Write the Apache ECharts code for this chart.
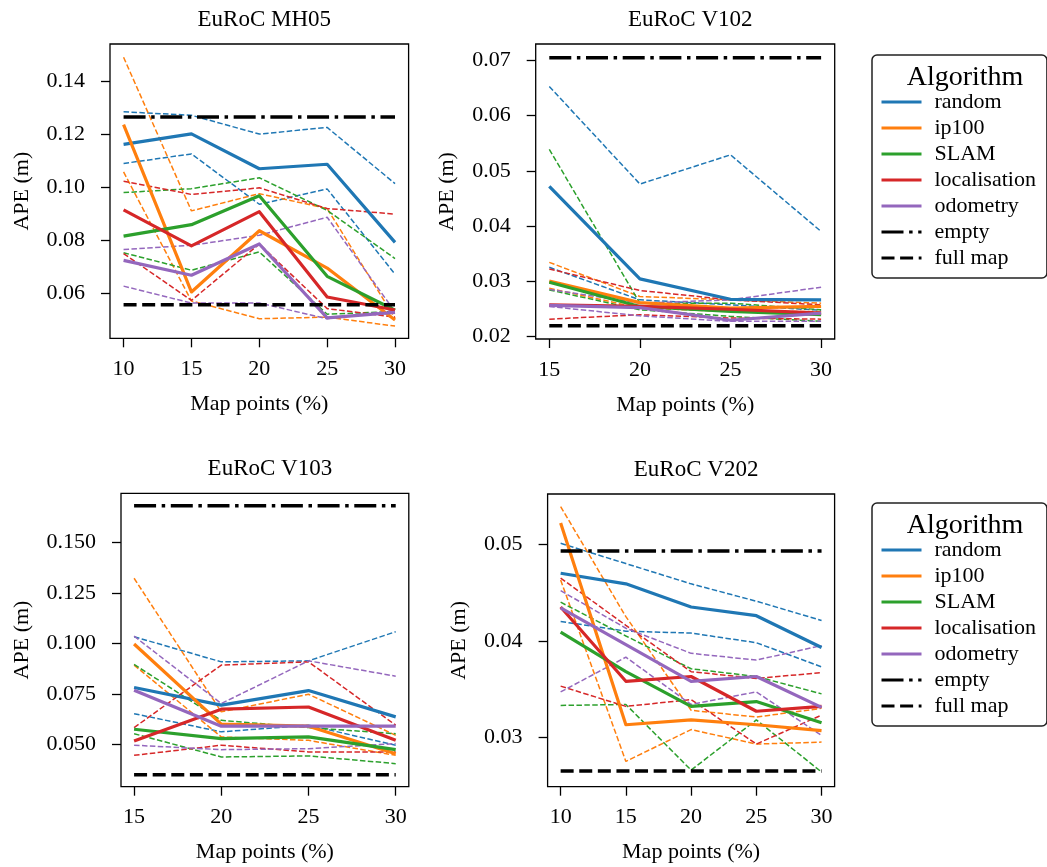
<!DOCTYPE html>
<html>
<head>
<meta charset="utf-8">
<title>APE vs map points</title>
<script src="https://cdn.jsdelivr.net/npm/echarts@6.0.0/dist/echarts.min.js"></script>
<style>
  html, body { margin: 0; padding: 0; background: #fff; }
  #chart { width: 1047px; height: 867px; }
</style>
</head>
<body>
<div id="chart"></div>
<script>
// algorithms, in legend order
const algorithms = ['random', 'ip100', 'SLAM', 'localisation', 'odometry'];
const colors = ['#1f77b4', '#ff7f0e', '#2ca02c', '#d62728', '#9467bd'];

// map points (%) per sequence
const pointsA = [10, 15, 20, 25, 30];
const pointsB = [15, 20, 25, 30];

// EuRoC MH05 : mean, two dashed runs, one row per algorithm
const mh05Mean = [
  [0.1161, 0.1201, 0.1069, 0.1086, 0.0791],
  [0.1236, 0.0604, 0.0835, 0.0694, 0.0498],
  [0.0815, 0.0858, 0.0967, 0.0663, 0.0535],
  [0.0914, 0.0778, 0.0907, 0.0585, 0.0536],
  [0.0723, 0.0667, 0.0785, 0.0506, 0.0527]
];
const mh05RunA = [
  [0.1284, 0.1271, 0.1200, 0.1225, 0.1013],
  [0.1490, 0.0910, 0.0975, 0.0919, 0.0505],
  [0.0979, 0.0994, 0.1035, 0.0912, 0.0730],
  [0.1022, 0.0972, 0.0997, 0.0919, 0.0898],
  [0.0764, 0.0780, 0.0818, 0.0886, 0.0529]
];
const mh05RunB = [
  [0.1089, 0.1125, 0.0935, 0.0993, 0.0671],
  [0.1057, 0.0570, 0.0503, 0.0509, 0.0475],
  [0.0752, 0.0686, 0.0755, 0.0520, 0.0530],
  [0.0749, 0.0572, 0.0785, 0.0541, 0.0509],
  [0.0626, 0.0562, 0.0562, 0.0503, 0.0534]
];

// EuRoC V102
const v102Mean = [
  [0.0472, 0.0304, 0.0267, 0.0266],
  [0.0300, 0.0261, 0.0251, 0.0254],
  [0.0298, 0.0254, 0.0245, 0.0239],
  [0.0257, 0.0254, 0.0249, 0.0242],
  [0.0256, 0.0252, 0.0229, 0.0242]
];
const v102RunA = [
  [0.0653, 0.0476, 0.0529, 0.0390],
  [0.0334, 0.0272, 0.0266, 0.0260],
  [0.0539, 0.0260, 0.0260, 0.0248],
  [0.0322, 0.0283, 0.0266, 0.0257],
  [0.0285, 0.0260, 0.0266, 0.0289]
];
const v102RunB = [
  [0.0325, 0.0266, 0.0257, 0.0247],
  [0.0287, 0.0251, 0.0245, 0.0245],
  [0.0284, 0.0248, 0.0236, 0.0227],
  [0.0231, 0.0239, 0.0233, 0.0231],
  [0.0254, 0.0237, 0.0227, 0.0227]
];

// EuRoC V103
const v103Mean = [
  [0.0782, 0.0695, 0.0767, 0.0637],
  [0.0997, 0.0601, 0.0591, 0.0455],
  [0.0576, 0.0530, 0.0538, 0.0475],
  [0.0518, 0.0675, 0.0686, 0.0521],
  [0.0769, 0.0591, 0.0591, 0.0591]
];
const v103RunA = [
  [0.1033, 0.0909, 0.0914, 0.1058],
  [0.1322, 0.0662, 0.0749, 0.0546],
  [0.0896, 0.0620, 0.0584, 0.0554],
  [0.0584, 0.0893, 0.0909, 0.0596],
  [0.1036, 0.0703, 0.0914, 0.0838]
];
const v103RunB = [
  [0.0653, 0.0563, 0.0596, 0.0497],
  [0.0893, 0.0538, 0.0521, 0.0447],
  [0.0554, 0.0439, 0.0444, 0.0406],
  [0.0447, 0.0497, 0.0464, 0.0464],
  [0.0497, 0.0475, 0.0480, 0.0505]
];

// EuRoC V202
const v202Mean = [
  [0.0470, 0.0459, 0.0435, 0.0426, 0.0393],
  [0.0522, 0.0313, 0.0318, 0.0313, 0.0307],
  [0.0409, 0.0368, 0.0332, 0.0337, 0.0315],
  [0.0435, 0.0358, 0.0363, 0.0327, 0.0332],
  [0.0434, 0.0396, 0.0358, 0.0363, 0.0331]
];
const v202RunA = [
  [0.0501, 0.0480, 0.0459, 0.0441, 0.0421],
  [0.0539, 0.0425, 0.0328, 0.0321, 0.0330],
  [0.0440, 0.0405, 0.0371, 0.0363, 0.0345],
  [0.0465, 0.0416, 0.0368, 0.0361, 0.0367],
  [0.0452, 0.0413, 0.0387, 0.0380, 0.0395]
];
const v202RunB = [
  [0.0420, 0.0410, 0.0408, 0.0398, 0.0373],
  [0.0463, 0.0275, 0.0308, 0.0293, 0.0295],
  [0.0333, 0.0334, 0.0266, 0.0318, 0.0264],
  [0.0353, 0.0332, 0.0339, 0.0293, 0.0323],
  [0.0347, 0.0383, 0.0334, 0.0347, 0.0302]
];

// reference levels: [empty, full map]
const mh05Ref = [0.1264, 0.0556];
const v102Ref = [0.0705, 0.0219];
const v103Ref = [0.1680, 0.0351];
const v202Ref = [0.0493, 0.0265];

// tick labels
const xTicksA = [10, 15, 20, 25, 30];
const xTicksB = [15, 20, 25, 30];
const mh05YTicks = [0.06, 0.08, 0.10, 0.12, 0.14];
const v102YTicks = [0.02, 0.03, 0.04, 0.05, 0.06, 0.07];
const v103YTicks = [0.050, 0.075, 0.100, 0.125, 0.150];
const v202YTicks = [0.03, 0.04, 0.05];

const FONT = 'Liberation Serif';
const thinDash = [5.5, 2.4];
const dashDot = [22, 5.6, 3.5, 5.6];
const bigDash = [13, 5.6];

const panels = [
  { title: 'EuRoC MH05', pts: pointsA, xt: xTicksA, yt: mh05YTicks, dec: 2, mean: mh05Mean, a: mh05RunA, b: mh05RunB, ref: mh05Ref,
    grid: [110, 44, 298.6, 294.3], xr: [9, 31], yr: [0.0429, 0.1540], gap: 77 },
  { title: 'EuRoC V102', pts: pointsB, xt: xTicksB, yt: v102YTicks, dec: 2, mean: v102Mean, a: v102RunA, b: v102RunB, ref: v102Ref,
    grid: [535.7, 44, 299, 295], xr: [14.25, 30.75], yr: [0.0195, 0.0730], gap: 77 },
  { title: 'EuRoC V103', pts: pointsB, xt: xTicksB, yt: v103YTicks, dec: 3, mean: v103Mean, a: v103RunA, b: v103RunB, ref: v103Ref,
    grid: [121, 493.3, 287.8, 293.4], xr: [14.25, 30.75], yr: [0.0292, 0.1742], gap: 88 },
  { title: 'EuRoC V202', pts: pointsA, xt: xTicksA, yt: v202YTicks, dec: 2, mean: v202Mean, a: v202RunA, b: v202RunB, ref: v202Ref,
    grid: [547.6, 494, 287, 292.7], xr: [9, 31], yr: [0.02488, 0.05521], gap: 77 }
];

const grids = [], xAxes = [], yAxes = [], titles = [], series = [];
const txt = { color: '#000', fontFamily: FONT, fontSize: 22 };

panels.forEach(function (p, k) {
  grids.push({ left: p.grid[0], top: p.grid[1], width: p.grid[2], height: p.grid[3],
    show: true, borderColor: '#000', borderWidth: 1.3, backgroundColor: '#fff', outerBoundsMode: 'none' });
  titles.push({ text: p.title, left: p.grid[0] + p.grid[2] / 2, top: p.grid[1] - 41, textAlign: 'center',
    textStyle: { color: '#000', fontFamily: FONT, fontSize: 23, fontWeight: 'normal' } });
  xAxes.push({
    type: 'value', gridIndex: k, min: p.xr[0], max: p.xr[1],
    name: 'Map points (%)', nameLocation: 'middle', nameGap: 55, nameTextStyle: txt,
    axisLine: { show: false, onZero: false },
    axisTick: { show: true, length: 9, customValues: p.xt, lineStyle: { color: '#000', width: 1.3 } },
    axisLabel: { customValues: p.xt, margin: 20, color: '#000', fontFamily: FONT, fontSize: 22 },
    splitLine: { show: false }
  });
  yAxes.push({
    type: 'value', gridIndex: k, min: p.yr[0], max: p.yr[1],
    name: 'APE (m)', nameLocation: 'middle', nameGap: p.gap, nameTextStyle: txt,
    axisLine: { show: false, onZero: false },
    axisTick: { show: true, length: 9, customValues: p.yt, lineStyle: { color: '#000', width: 1.3 } },
    axisLabel: { customValues: p.yt, margin: 25, color: '#000', fontFamily: FONT, fontSize: 22,
      formatter: function (v) { return v.toFixed(p.dec); } },
    splitLine: { show: false }
  });

  const pair = function (vals) { return p.pts.map(function (x, j) { return [x, vals[j]]; }); };

  // thin dashed runs
  algorithms.forEach(function (name, i) {
    [p.a, p.b].forEach(function (run, r) {
      series.push({ type: 'line', name: name + ' run ' + (r + 1), xAxisIndex: k, yAxisIndex: k,
        data: pair(run[i]), symbol: 'none', silent: true, z: 2,
        lineStyle: { color: colors[i], width: 1.5, type: thinDash }, itemStyle: { color: colors[i] } });
    });
  });
  // means
  algorithms.forEach(function (name, i) {
    series.push({ type: 'line', name: name, xAxisIndex: k, yAxisIndex: k,
      data: pair(p.mean[i]), symbol: 'none', silent: true, z: 3,
      lineStyle: { color: colors[i], width: 3.2, join: 'round' }, itemStyle: { color: colors[i] } });
  });
  // reference lines
  const x0 = p.pts[0], x1 = p.pts[p.pts.length - 1];
  series.push({ type: 'line', name: 'empty', xAxisIndex: k, yAxisIndex: k,
    data: [[x0, p.ref[0]], [x1, p.ref[0]]], symbol: 'none', silent: true, z: 4,
    lineStyle: { color: '#000', width: 3.5, type: dashDot }, itemStyle: { color: '#000' } });
  series.push({ type: 'line', name: 'full map', xAxisIndex: k, yAxisIndex: k,
    data: [[x0, p.ref[1]], [x1, p.ref[1]]], symbol: 'none', silent: true, z: 4,
    lineStyle: { color: '#000', width: 3.5, type: bigDash }, itemStyle: { color: '#000' } });
});

const legendNames = algorithms.concat(['empty', 'full map']);
function makeLegend(top) {
  return {
    data: legendNames, orient: 'vertical', left: 872, top: top,
    padding: [36, 11, 9, 8], itemWidth: 40, itemHeight: 14, itemGap: 4,
    backgroundColor: '#fff', borderColor: '#222', borderWidth: 1.5, borderRadius: 5,
    selectedMode: false,
    itemStyle: { opacity: 0, borderWidth: 0 },
    lineStyle: { width: 3 },
    textStyle: { color: '#000', fontFamily: FONT, fontSize: 22, padding: [0, 0, 0, 8] }
  };
}
titles.push({ text: 'Algorithm', left: 960, top: 59, textAlign: 'center',
  textStyle: { color: '#000', fontFamily: FONT, fontSize: 28, fontWeight: 'normal' } });
titles.push({ text: 'Algorithm', left: 960, top: 507, textAlign: 'center',
  textStyle: { color: '#000', fontFamily: FONT, fontSize: 28, fontWeight: 'normal' } });

const chart = echarts.init(document.getElementById('chart'), null, { renderer: 'canvas' });
chart.setOption({
  animation: false,
  backgroundColor: '#fff',
  title: titles,
  legend: [makeLegend(55), makeLegend(503)],
  grid: grids,
  xAxis: xAxes,
  yAxis: yAxes,
  series: series
});
</script>
</body>
</html>
